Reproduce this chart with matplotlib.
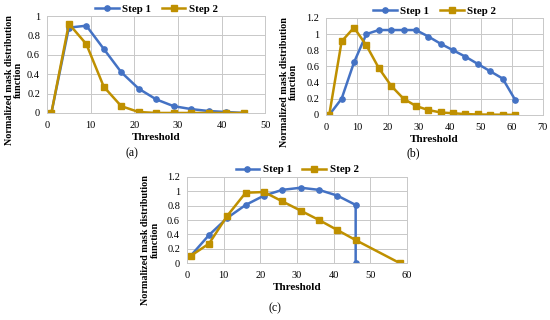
import matplotlib
matplotlib.use("Agg")
import matplotlib.pyplot as plt

plt.rcParams["font.family"] = ["Liberation Serif", "DejaVu Serif"]

BLUE = "#4472C4"
GOLD = "#BF9000"
GRID = "#C8C8C8"

# panel (a)
a_x = [1, 5, 9, 13, 17, 21, 25, 29, 33, 37, 41, 45]
a_step1 = [0, 0.88, 0.90, 0.66, 0.42, 0.25, 0.14, 0.07, 0.04, 0.02, 0.01, 0.0]
a_step2 = [0, 0.92, 0.71, 0.27, 0.07, 0.01, 0, 0, 0, 0, 0, 0]

# panel (b)
b_x = [1, 5, 9, 13, 17, 21, 25, 29, 33, 37, 41, 45, 49, 53, 57, 61]
b_step1 = [0, 0.20, 0.65, 1.00, 1.05, 1.05, 1.05, 1.05, 0.97, 0.88, 0.80, 0.72,
           0.63, 0.54, 0.45, 0.19]
b_step2 = [0, 0.91, 1.08, 0.86, 0.58, 0.36, 0.20, 0.11, 0.06, 0.03, 0.02, 0.01,
           0.005, 0.003, 0.002, 0.0]

# panel (c)
c_x1 = [1, 6, 11, 16, 21, 26, 31, 36, 41, 46, 46]
c_step1 = [0.10, 0.39, 0.63, 0.81, 0.94, 1.02, 1.05, 1.02, 0.94, 0.81, 0]
c_x2 = [1, 6, 11, 16, 21, 26, 31, 36, 41, 46, 58]
c_step2 = [0.10, 0.27, 0.66, 0.98, 0.99, 0.86, 0.73, 0.60, 0.46, 0.32, 0]

YLABEL = "Normalized mask distribution\nfunction"


def panel(fig, rect, x1, y1, x2, y2, xmax, ymax, caption, cap_xy, label_xy):
    ax = fig.add_axes(rect)
    ax.plot(x1, y1, "-o", color=BLUE, lw=1.8, ms=3.8, label="Step 1")
    ax.plot(x2, y2, "-s", color=GOLD, lw=1.8, ms=3.8, label="Step 2")
    ax.set_xlim(0, xmax)
    ax.set_ylim(0, ymax)
    ax.set_xticks(range(0, xmax + 1, 10))
    steps = range(0, int(round(ymax * 10)) + 1, 2)
    ax.set_yticks([v / 10 for v in steps])
    ax.set_yticklabels([f"{v / 10:g}" for v in steps])
    ax.grid(True, color=GRID, lw=0.7)
    ax.set_axisbelow(True)
    for s in ax.spines.values():
        s.set_color(GRID)
        s.set_linewidth(0.7)
    ax.tick_params(axis="y", length=0, labelsize=7.5, pad=5)
    ax.tick_params(axis="x", length=0, labelsize=7.5, pad=6)
    ax.set_xlabel("Threshold", fontsize=8, fontweight="bold", labelpad=2)
    ax.set_ylabel(YLABEL, fontsize=7.3, fontweight="bold", linespacing=1.0)
    ax.yaxis.set_label_coords(*label_xy)
    ax.legend(loc="lower center", bbox_to_anchor=(0.5, 0.98), ncol=2, frameon=False,
              prop={"size": 7.8, "weight": "bold"}, handlelength=2.2,
              columnspacing=1.0, handletextpad=0.3, borderaxespad=0)
    fig.text(cap_xy[0], cap_xy[1], caption, fontsize=8.5, ha="center", va="center")
    return ax


fig = plt.figure(figsize=(5.5, 3.2), dpi=100)
panel(fig, [0.0855, 0.647, 0.397, 0.303], a_x, a_step1, a_x, a_step2, 50, 1.0,
      "(a)", (0.24, 0.522), (-0.11, 0.34))
panel(fig, [0.593, 0.641, 0.394, 0.303], b_x, b_step1, b_x, b_step2, 70, 1.2,
      "(b)", (0.752, 0.522), (-0.13, 0.34))
panel(fig, [0.34, 0.178, 0.40, 0.269], c_x1, c_step1, c_x2, c_step2, 60, 1.2,
      "(c)", (0.50, 0.038), (-0.125, 0.27))
fig.savefig("out.png", dpi=100)
